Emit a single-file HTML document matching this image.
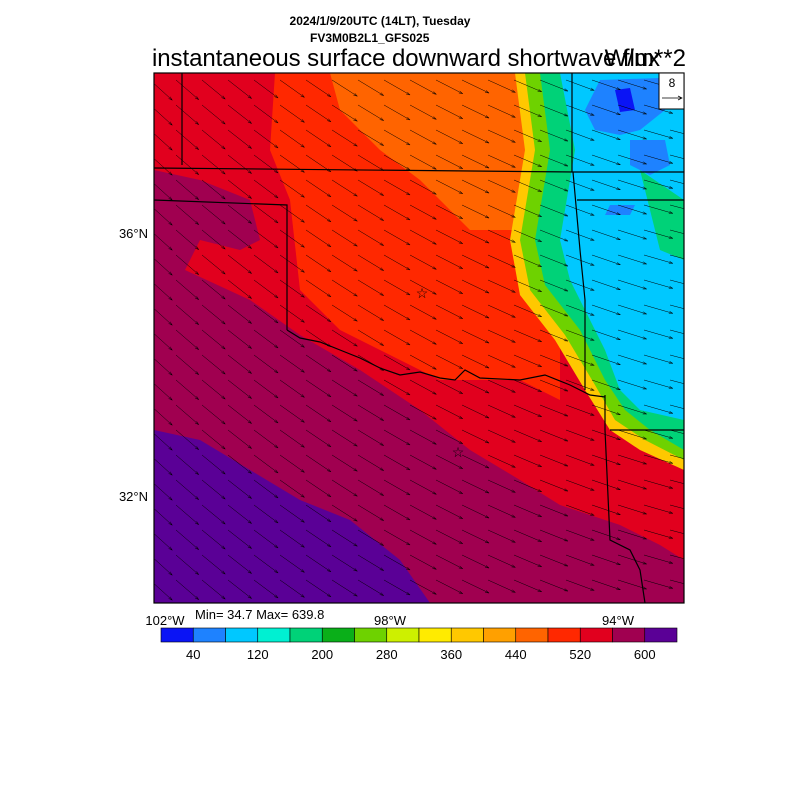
<!DOCTYPE html>
<html><head><meta charset="utf-8"><style>
body{margin:0;background:#fff;}
svg{display:block;font-family:"Liberation Sans",sans-serif;}
</style></head><body>
<svg id="s" width="800" height="800" viewBox="0 0 800 800">
<rect width="800" height="800" fill="#fff"/>
<defs><clipPath id="c"><rect x="154" y="73" width="530" height="530"/></clipPath></defs>
<g clip-path="url(#c)">
<rect x="154" y="73" width="530" height="530" fill="#e1001e"/>
<polygon fill="#ff2800" points="280,73 560,73 560,400 520,380 440,380 400,360 340,330 300,290 290,200 270,150 275,73"/>
<polygon fill="#ff6400" points="330,73 530,73 535,150 515,230 470,230 420,180 380,150 340,110"/>
<polygon fill="#ffc800" points="500,73 684,73 684,470 640,450 610,430 585,390 555,340 520,295 510,240 525,150 515,73"/>
<polygon fill="#6ed200" points="515,73 684,73 684,460 645,440 615,420 595,385 565,335 530,290 520,240 535,150 525,73"/>
<polygon fill="#00d278" points="530,73 684,73 684,450 650,430 625,410 605,380 580,330 545,285 535,240 550,150 540,73"/>
<polygon fill="#00c8ff" points="560,73 684,73 684,420 640,410 620,390 605,350 590,320 570,280 560,240 575,150"/>
<polygon fill="#00d278" points="640,170 684,200 684,260 660,250"/>
<polygon fill="#1e82ff" points="600,80 660,78 665,110 640,130 620,135 595,130 585,110"/>
<polygon fill="#1e82ff" points="630,140 665,140 670,165 650,175 630,165"/>
<polygon fill="#0a14f5" points="615,90 630,88 635,110 620,112"/>
<polygon fill="#1e82ff" points="610,205 635,205 630,215 605,215"/>
<polygon fill="#a00050" points="154,170 200,180 250,200 260,240 240,250 200,240 185,270 250,300 300,335 360,370 420,410 470,450 520,480 560,505 620,525 660,545 684,560 684,603 154,603"/>
<polygon fill="#5a0096" points="154,430 200,440 250,470 300,500 350,520 400,560 430,603 154,603"/>
</g>
<g id="arr" clip-path="url(#c)" stroke="#000" stroke-width="0.5" fill="none"></g>
<g stroke="#000" stroke-width="1.2" fill="none">
<path d="M182,73 L182,165"/>
<path d="M154,168 L575,172 L684,172"/>
<path d="M572,73 L572,172"/>
<path d="M154,200 L287,205 L287,330"/>
<path d="M287,330 L300,338 L320,342 L340,350 L360,358 L380,368 L400,375 L420,372 L440,378 L455,380 L465,370 L480,378 L520,380 L545,375 L570,385 L590,395 L605,397"/>
<path d="M577,200 L684,200"/>
<path d="M573,172 L580,250 L585,300 L585,390"/>
<path d="M605,395 L605,430 L610,540 L630,550 L640,570 L645,603"/>
<path d="M610,430 L684,430"/>
</g>
<rect x="154" y="73" width="530" height="530" fill="none" stroke="#000" stroke-width="1.2"/>
<text x="422" y="298" font-size="14" text-anchor="middle">☆</text>
<text x="458" y="457" font-size="14" text-anchor="middle">☆</text>
<rect x="659" y="73" width="25" height="36" fill="#fff" stroke="#000"/>
<text x="672" y="87" font-size="12" text-anchor="middle">8</text>
<path d="M662,98 L682,98 M678,96 L682,98 L678,100" stroke="#000" stroke-width="0.7" fill="none"/>
<text x="380" y="25" font-size="12" font-weight="bold" text-anchor="middle">2024/1/9/20UTC (14LT), Tuesday</text>
<text x="310" y="42" font-size="12" font-weight="bold">FV3M0B2L1_GFS025</text>
<text x="152" y="66" font-size="24" textLength="508">instantaneous surface downward shortwave flux</text>
<text x="686" y="66" font-size="24" text-anchor="end">W/m**2</text>
<text x="148" y="238" font-size="13" text-anchor="end">36°N</text>
<text x="148" y="501" font-size="13" text-anchor="end">32°N</text>
<text x="165" y="625" font-size="13" text-anchor="middle">102°W</text>
<text x="390" y="625" font-size="13" text-anchor="middle">98°W</text>
<text x="618" y="625" font-size="13" text-anchor="middle">94°W</text>
<text x="195" y="619" font-size="13">Min= 34.7 Max= 639.8</text>
<g id="cb"></g>
</svg>
<script>
var ns="http://www.w3.org/2000/svg",s=document.getElementById('arr');
for(var y=80;y<610;y+=25){for(var x=150;x<690;x+=26){
var t=(x-154)/530;var ang=(42-28*t)*Math.PI/180;var L=30;
var dx=Math.cos(ang)*L,dy=Math.sin(ang)*L;
var x2=x+dx,y2=y+dy;var a=Math.atan2(dy,dx);
var p=document.createElementNS(ns,'path');
p.setAttribute('d','M'+x+','+y+'L'+x2+','+y2+'M'+(x2-4*Math.cos(a-0.3))+','+(y2-4*Math.sin(a-0.3))+'L'+x2+','+y2+'L'+(x2-4*Math.cos(a+0.3))+','+(y2-4*Math.sin(a+0.3)));
s.appendChild(p);}}
var cols=["#0a14f5","#1e82ff","#00c8ff","#00f0d2","#00d278","#0aaf19","#6ed200","#cdf000","#ffeb00","#ffc800","#ffa000","#ff6400","#ff2800","#e1001e","#a00050","#5a0096"];
var cb=document.getElementById('cb'),w=516/16;
cols.forEach(function(c,i){var r=document.createElementNS(ns,'rect');r.setAttribute('x',161+i*w);r.setAttribute('y',628);r.setAttribute('width',w);r.setAttribute('height',14);r.setAttribute('fill',c);r.setAttribute('stroke','#000');r.setAttribute('stroke-width','0.6');cb.appendChild(r);});
[40,120,200,280,360,440,520,600].forEach(function(v,i){var t=document.createElementNS(ns,'text');t.setAttribute('x',161+w*(1+2*i));t.setAttribute('y',659);t.setAttribute('font-size','13');t.setAttribute('text-anchor','middle');t.textContent=v;cb.appendChild(t);});
</script>
</body></html>
